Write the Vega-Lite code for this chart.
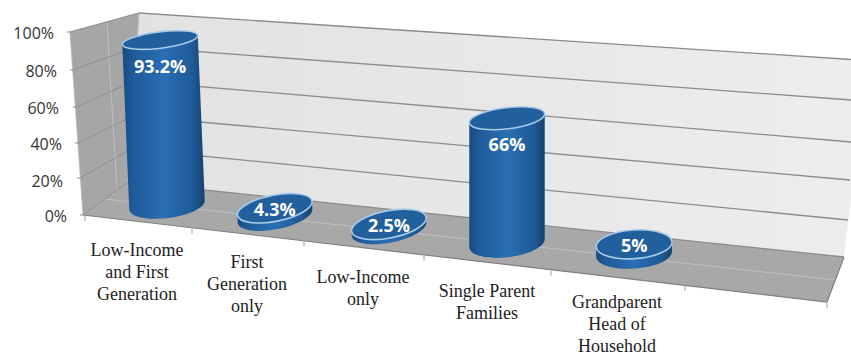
{
"$schema":"https://vega.github.io/schema/vega-lite/v6.json",
"width":851,"height":355,"autosize":"none","padding":0,"background":"white",
"config":{"view":{"stroke":null}},
"datasets":{
"bars":[
{"category":"Low-Income and First Generation","lines":"Low-Income\nand First\nGeneration","value":93.2,"label":"93.2%","slot":0},
{"category":"First Generation only","lines":"First\nGeneration\nonly","value":4.3,"label":"4.3%","slot":1},
{"category":"Low-Income only","lines":"Low-Income\nonly","value":2.5,"label":"2.5%","slot":2},
{"category":"Single Parent Families","lines":"Single Parent\nFamilies","value":66,"label":"66%","slot":3},
{"category":"Grandparent Head of Household","lines":"Grandparent\nHead of\nHousehold","value":5,"label":"5%","slot":4}
],
"grid":[{"pct":0,"txt":"0%"},{"pct":20,"txt":"20%"},{"pct":40,"txt":"40%"},{"pct":60,"txt":"60%"},{"pct":80,"txt":"80%"},{"pct":100,"txt":"100%"}],
"ticks":[{"t":0},{"t":1},{"t":2},{"t":3},{"t":4},{"t":5},{"t":6}],
"frame":[{"plane":"chart box"}]
},
"layer":[
{"data":{"name":"frame"},"mark":{"type":"point","filled":true,"opacity":1,"size":4,"fill":{"gradient":"linear","x1":0,"x2":1,"y1":0,"y2":0,"stops":[{"offset":0,"color":"#e2e2e2"},{"offset":1,"color":"#ededed"}]}},
 "encoding":{"shape":{"value":"M139 13 L851 59.5 L851 200 L844 257 L128 182 Z"},"x":{"datum":0,"scale":{"domain":[0,851]},"axis":null},"y":{"datum":0,"scale":{"domain":[355,0]},"axis":null}}},
{"data":{"name":"frame"},"mark":{"type":"point","filled":true,"opacity":1,"size":4,"fill":"#a6a6a6","stroke":"#b5b5b5","strokeWidth":0.8},
 "encoding":{"shape":{"value":"M70 32 L139 13 L128 182 L83 215 Z"},"x":{"datum":0,"scale":{"domain":[0,851]},"axis":null},"y":{"datum":0,"scale":{"domain":[355,0]},"axis":null}}},
{"data":{"name":"frame"},"mark":{"type":"point","filled":true,"opacity":1,"size":4,"fill":"#a8a8a8"},
 "encoding":{"shape":{"value":"M83 215 L128 182 L844 257 L827 302 Z"},"x":{"datum":0,"scale":{"domain":[0,851]},"axis":null},"y":{"datum":0,"scale":{"domain":[355,0]},"axis":null}}},
{"data":{"name":"frame"},"mark":{"type":"point","filled":false,"opacity":1,"size":4,"stroke":"#c0c0c0","strokeWidth":1},
 "encoding":{"shape":{"value":"M107 23 L117 191 M105 199 L836 280"},"x":{"datum":0,"scale":{"domain":[0,851]},"axis":null},"y":{"datum":0,"scale":{"domain":[355,0]},"axis":null}}},
{"data":{"name":"grid"},
 "transform":[
  {"calculate":"datum.pct/20","as":"i"},
  {"calculate":"[128,131,133,134,136,139][datum.i]","as":"blx"},
  {"calculate":"[182,149,116,81,47,13][datum.i]","as":"bly"},
  {"calculate":"[844,848,850,851,851,851][datum.i]","as":"brx"},
  {"calculate":"[257,220,180,142,100,59.5][datum.i]","as":"bry"}],
 "mark":{"type":"rule","stroke":"#8c8c8c","strokeWidth":1.3},
 "encoding":{"x":{"field":"blx","type":"quantitative","scale":{"domain":[0,851]},"axis":null},"x2":{"field":"brx"},"y":{"field":"bly","type":"quantitative","scale":{"domain":[355,0]},"axis":null},"y2":{"field":"bry"}}},
{"data":{"name":"grid"},
 "transform":[
  {"calculate":"datum.pct/20","as":"i"},
  {"calculate":"[83,80,78,76,73,70][datum.i]","as":"flx"},
  {"calculate":"[215,178,143,107,70,32][datum.i]","as":"fly"},
  {"calculate":"[128,131,133,134,136,139][datum.i]","as":"blx"},
  {"calculate":"[182,149,116,81,47,13][datum.i]","as":"bly"}],
 "mark":{"type":"rule","stroke":"#8e8e8e","strokeWidth":1},
 "encoding":{"x":{"field":"flx","type":"quantitative","scale":{"domain":[0,851]},"axis":null},"x2":{"field":"blx"},"y":{"field":"fly","type":"quantitative","scale":{"domain":[355,0]},"axis":null},"y2":{"field":"bly"}}},
{"data":{"name":"grid"},
 "transform":[
  {"calculate":"datum.pct/20","as":"i"},
  {"calculate":"[83,80,78,76,73,70][datum.i]","as":"flx"},
  {"calculate":"datum.flx-3","as":"tlx"},
  {"calculate":"[215,178,143,107,70,32][datum.i]","as":"fly"}],
 "mark":{"type":"rule","stroke":"#8e8e8e","strokeWidth":1},
 "encoding":{"x":{"field":"tlx","type":"quantitative","scale":{"domain":[0,851]},"axis":null},"x2":{"field":"flx"},"y":{"field":"fly","type":"quantitative","scale":{"domain":[355,0]},"axis":null}}},
{"data":{"name":"grid"},
 "transform":[
  {"calculate":"datum.pct/20","as":"i"},
  {"calculate":"[67,63,62,59,57,54][datum.i]","as":"lx"},
  {"calculate":"[217,182,145,109,72,34][datum.i]","as":"ly"}],
 "mark":{"type":"text","align":"right","baseline":"middle","font":"Open Sans","fontSize":16,"fill":"#333333"},
 "encoding":{"x":{"field":"lx","type":"quantitative","scale":{"domain":[0,851]},"axis":null},"y":{"field":"ly","type":"quantitative","scale":{"domain":[355,0]},"axis":null},"text":{"field":"txt"}}},
{"data":{"name":"frame"},"mark":{"type":"point","filled":false,"opacity":1,"size":4,"stroke":"#7f7f7f","strokeWidth":1.2},
 "encoding":{"shape":{"value":"M83 215 L827 302 L844 257"},"x":{"datum":0,"scale":{"domain":[0,851]},"axis":null},"y":{"datum":0,"scale":{"domain":[355,0]},"axis":null}}},
{"data":{"name":"ticks"},
 "transform":[
  {"calculate":"[85,192,304,424,551,685,827][datum.t]","as":"tx"},
  {"calculate":"[216,228.5,241.5,255.5,270.5,286,303][datum.t]","as":"ty"},
  {"calculate":"datum.ty+5","as":"ty2"}],
 "mark":{"type":"rule","stroke":"#a0a0a0","strokeWidth":1},
 "encoding":{"x":{"field":"tx","type":"quantitative","scale":{"domain":[0,851]},"axis":null},"y":{"field":"ty","type":"quantitative","scale":{"domain":[355,0]},"axis":null},"y2":{"field":"ty2"}}},
{"data":{"name":"bars"},
 "transform":[
  {"calculate":"[167,275,389,507,634][datum.slot]","as":"bx"},
  {"calculate":"[205,216,229,243,254][datum.slot]","as":"by"},
  {"calculate":"datum.value*(1.77+0.04*datum.slot)","as":"h"},
  {"calculate":"-datum.h*0.042*(3-datum.slot)/3","as":"dx"},
  {"calculate":"[7,11,11,7,4][datum.slot]","as":"rot"},
  {"calculate":"round(38*cos(datum.rot*PI/180)*100)/100","as":"cs"},
  {"calculate":"round(38*sin(datum.rot*PI/180)*100)/100","as":"sn"},
  {"calculate":"round((7+0.03*datum.by)*100)/100","as":"ry"},
  {"calculate":"'M '+(-datum.cs)+' '+datum.sn+' A 38 '+datum.ry+' '+(-datum.rot)+' 0 0 '+datum.cs+' '+(-datum.sn)+' L '+(round((datum.dx+datum.cs)*100)/100)+' '+(round((-datum.h-datum.sn)*100)/100)+' L '+(round((datum.dx-datum.cs)*100)/100)+' '+(round((-datum.h+datum.sn)*100)/100)+' Z'","as":"body"}],
 "mark":{"type":"point","filled":true,"opacity":1,"size":4,"fill":{"gradient":"linear","x1":0,"x2":1,"y1":0,"y2":0,"stops":[{"offset":0,"color":"#174a80"},{"offset":0.12,"color":"#1f5a98"},{"offset":0.5,"color":"#2a6eb4"},{"offset":0.85,"color":"#1f5a98"},{"offset":1,"color":"#16436f"}]}},
 "encoding":{"x":{"field":"bx","type":"quantitative","scale":{"domain":[0,851]},"axis":null},"y":{"field":"by","type":"quantitative","scale":{"domain":[355,0]},"axis":null},"shape":{"field":"body","type":"nominal","scale":null,"legend":null}}},
{"data":{"name":"bars"},
 "transform":[
  {"calculate":"[167,275,389,507,634][datum.slot]","as":"bx"},
  {"calculate":"[205,216,229,243,254][datum.slot]","as":"by"},
  {"calculate":"datum.value*(1.77+0.04*datum.slot)","as":"h"},
  {"calculate":"-datum.h*0.042*(3-datum.slot)/3","as":"dx"},
  {"calculate":"datum.bx+datum.dx","as":"tx"},
  {"calculate":"datum.by-datum.h","as":"ty"},
  {"calculate":"[7,11,11,7,4][datum.slot]","as":"rot"},
  {"calculate":"round(38*cos(datum.rot*PI/180)*100)/100","as":"cs"},
  {"calculate":"round(38*sin(datum.rot*PI/180)*100)/100","as":"sn"},
  {"calculate":"round((7+0.03*datum.ty)*100)/100","as":"ry"},
  {"calculate":"'M '+(-datum.cs)+' '+datum.sn+' A 38 '+datum.ry+' '+(-datum.rot)+' 0 0 '+datum.cs+' '+(-datum.sn)+' A 38 '+datum.ry+' '+(-datum.rot)+' 0 0 '+(-datum.cs)+' '+datum.sn+' Z'","as":"cap"}],
 "mark":{"type":"point","filled":true,"opacity":1,"size":4,"fill":"#22609d","stroke":"#a8cbe8","strokeWidth":1.6},
 "encoding":{"x":{"field":"tx","type":"quantitative","scale":{"domain":[0,851]},"axis":null},"y":{"field":"ty","type":"quantitative","scale":{"domain":[355,0]},"axis":null},"shape":{"field":"cap","type":"nominal","scale":null,"legend":null}}},
{"data":{"name":"bars"},
 "transform":[
  {"calculate":"[167,275,389,507,634][datum.slot]","as":"bx"},
  {"calculate":"[205,216,229,243,254][datum.slot]","as":"by"},
  {"calculate":"datum.value*(1.77+0.04*datum.slot)","as":"h"},
  {"calculate":"-datum.h*0.042*(3-datum.slot)/3","as":"dx"},
  {"calculate":"datum.bx+datum.dx","as":"tx"},
  {"calculate":"datum.by-datum.h+(datum.value>20?28:3)","as":"ly"}],
 "mark":{"type":"text","align":"center","baseline":"middle","font":"Open Sans","fontWeight":"bold","fontSize":18,"fill":"white"},
 "encoding":{"x":{"field":"tx","type":"quantitative","scale":{"domain":[0,851]},"axis":null},"y":{"field":"ly","type":"quantitative","scale":{"domain":[355,0]},"axis":null},"text":{"field":"label"}}},
{"data":{"name":"bars"},
 "transform":[
  {"calculate":"[137,247,363,487,617][datum.slot]","as":"cx"},
  {"calculate":"[251,263,278,292,303][datum.slot]","as":"cy"}],
 "mark":{"type":"text","align":"center","baseline":"middle","font":"Liberation Serif","fontSize":18,"lineHeight":22,"lineBreak":"\n","fill":"#222222"},
 "encoding":{"x":{"field":"cx","type":"quantitative","scale":{"domain":[0,851]},"axis":null},"y":{"field":"cy","type":"quantitative","scale":{"domain":[355,0]},"axis":null},"text":{"field":"lines"}}}
]
}
